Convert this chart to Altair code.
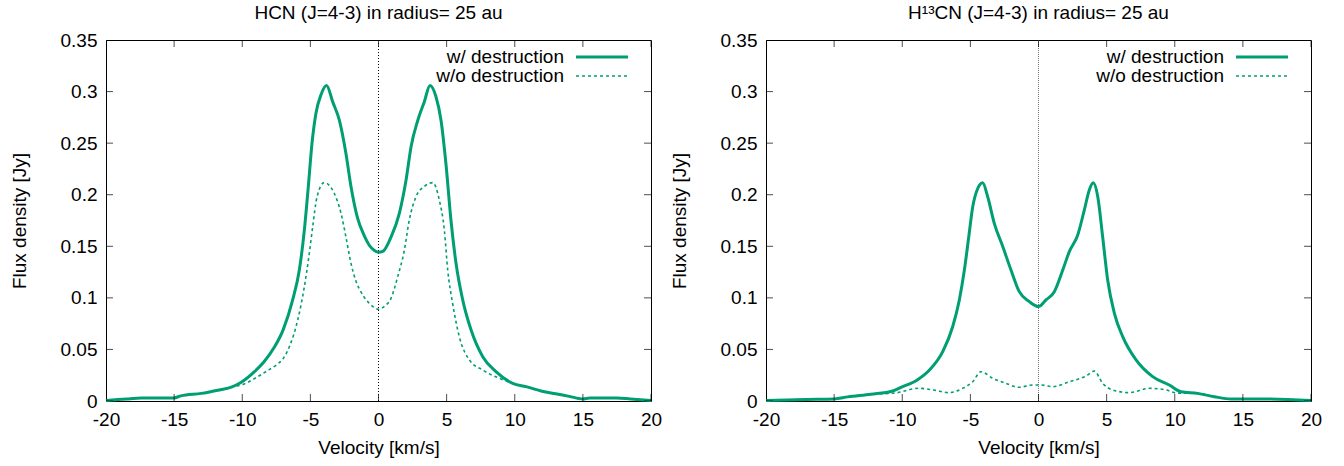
import altair as alt
import pandas as pd

# ---------------- data ----------------
# Left panel: HCN (J=4-3)
hcn_w_v = [-20, -18.5, -17.4, -15.5, -15.0, -14.5, -13.0, -11.8, -10.8, -10.1, -9.1, -8.4, -7.65, -7.0,
           -6.3, -5.81, -5.44, -5.15, -4.88, -4.59, -4.22, -3.81, -3.36, -2.87, -2.39, -2.02, -1.53,
           -1.04, -0.68, -0.3, 0.0, 0.31, 0.92, 1.53, 2.02, 2.39, 2.88, 3.36, 3.78, 4.22, 4.59, 4.95,
           5.32, 5.69, 6.18, 6.79, 7.65, 8.62, 9.85, 10.83, 12.0, 13.0, 14.0, 15.0, 15.5, 17.5, 18.5, 20]
hcn_w_f = [0.0005, 0.002, 0.0028, 0.0028, 0.003, 0.005, 0.0074, 0.0105, 0.0135, 0.018, 0.0285, 0.038,
           0.052, 0.069, 0.098, 0.127, 0.166, 0.208, 0.25, 0.279, 0.297, 0.306, 0.29, 0.272, 0.24, 0.208,
           0.177, 0.16, 0.151, 0.146, 0.1442, 0.145, 0.159, 0.182, 0.214, 0.2466, 0.272, 0.29, 0.306,
           0.295, 0.272, 0.23, 0.175, 0.1335, 0.098, 0.069, 0.043, 0.0285, 0.0171, 0.0139, 0.0095,
           0.007, 0.0045, 0.002, 0.003, 0.003, 0.002, 0.0005]

hcn_wo_v = [-20, -18.5, -17.4, -15.5, -15.0, -14.5, -13.0, -11.8, -10.8, -9.85, -9.0, -8.2, -7.5, -7.0,
            -6.5, -5.93, -5.44, -5.08, -4.83, -4.51, -3.98, -3.25, -2.75, -2.39, -2.02, -1.65, -1.3,
            -0.9, -0.45, 0.0, 0.45, 0.9, 1.41, 1.9, 2.26, 2.75, 3.36, 3.98, 4.46, 4.83, 5.08, 5.44, 5.93,
            6.67, 7.65, 8.87, 9.85, 10.83, 12.0, 13.0, 14.0, 15.0, 15.5, 17.5, 18.5, 20]
hcn_wo_f = [0.0005, 0.002, 0.0028, 0.0028, 0.003, 0.005, 0.0074, 0.0105, 0.0135, 0.0165, 0.0225, 0.029,
            0.035, 0.041, 0.054, 0.0785, 0.111, 0.143, 0.169, 0.198, 0.2117, 0.2014, 0.182, 0.159,
            0.1335, 0.116, 0.106, 0.098, 0.092, 0.0889, 0.092, 0.099, 0.1206, 0.1464, 0.1755, 0.198,
            0.208, 0.2117, 0.195, 0.166, 0.127, 0.0947, 0.0624, 0.0398, 0.030, 0.022, 0.0171, 0.0139,
            0.0095, 0.007, 0.0045, 0.002, 0.003, 0.003, 0.002, 0.0005]

# Right panel: H13CN (J=4-3)
h13_w_v = [-20, -17, -15, -14.0, -12.3, -10.7, -10.09, -8.9, -8.0, -7.03, -6.3, -5.81, -5.44, -5.12,
           -4.83, -4.46, -4.1, -3.73, -3.24, -2.63, -2.02, -1.41, -0.67, 0.0, 0.55, 1.16, 1.78, 2.26,
           2.88, 3.36, 3.73, 4.02, 4.35, 4.71, 5.08, 5.57, 6.18, 7.16, 8.38, 9.6, 10.46, 11.68, 12.9,
           14.13, 16.57, 20]
h13_w_f = [0.0005, 0.0015, 0.002, 0.004, 0.0065, 0.0097, 0.0133, 0.0204, 0.030, 0.0478, 0.072, 0.098,
           0.127, 0.159, 0.188, 0.206, 0.2115, 0.198, 0.172, 0.150, 0.127, 0.106, 0.0963, 0.0915, 0.098,
           0.106, 0.127, 0.1448, 0.161, 0.185, 0.2046, 0.2115, 0.198, 0.159, 0.117, 0.085, 0.0624,
           0.0398, 0.0236, 0.0155, 0.009, 0.0074, 0.0042, 0.002, 0.002, 0.0005]

h13_wo_v = [-20, -17, -15, -14.0, -12.3, -10.5, -8.8, -7.7, -6.55, -5.57, -4.83, -4.22, -3.36, -2.39,
            -1.41, -0.43, 0.2, 1.04, 2.26, 3.49, 4.1, 4.71, 5.44, 6.67, 8.13, 9.36, 10.2, 11.68, 12.9,
            14.13, 16.57, 20]
h13_wo_f = [0.0005, 0.0015, 0.002, 0.004, 0.0065, 0.0078, 0.0123, 0.0107, 0.0081, 0.0123, 0.0187,
            0.0284, 0.022, 0.0171, 0.0133, 0.0155, 0.0155, 0.0139, 0.0187, 0.0242, 0.029, 0.0171,
            0.0107, 0.0081, 0.0123, 0.0107, 0.0076, 0.0074, 0.0042, 0.002, 0.002, 0.0005]

titles = ["HCN (J=4-3) in radius= 25 au", "H\u00b9\u00b3CN (J=4-3) in radius= 25 au"]
legend_labels = ["w/ destruction", "w/o destruction"]
x_tick_values = [-20, -15, -10, -5, 0, 5, 10, 15, 20]
y_tick_values = [0, 0.05, 0.1, 0.15, 0.2, 0.25, 0.3, 0.35]

# ---------------- styling ----------------
FONT = "Liberation Sans"
FS = 19
GREEN = "#009e73"
W, H = 545, 361

x_scale = alt.Scale(domain=[-20, 20], nice=False, zero=False)
y_scale = alt.Scale(domain=[0, 0.35], nice=False)

x_axis = alt.Axis(values=x_tick_values, labelExpr="'' + datum.value", title="Velocity [km/s]",
                  ticks=False, tickSize=0, domain=False, grid=False, labelPadding=9, titlePadding=9,
                  labelFlush=False, labelOverlap=False)
y_axis = alt.Axis(values=y_tick_values, labelExpr="'' + datum.value", title="Flux density [Jy]",
                  ticks=False, tickSize=0, domain=False, grid=False, labelPadding=9, titlePadding=31,
                  labelFlush=False, labelOverlap=False)


def panel(title, wv, wf, wov, wof, zero_color, zero_dash):
    xe = alt.X("v:Q", scale=x_scale, axis=x_axis)
    ye = alt.Y("f:Q", scale=y_scale, axis=y_axis)

    df_w = pd.DataFrame({"v": wv, "f": wf})
    df_wo = pd.DataFrame({"v": wov, "f": wof})

    zero = alt.Chart(pd.DataFrame({"v": [0]})).mark_rule(
        color=zero_color, strokeDash=zero_dash, strokeWidth=1
    ).encode(x=alt.X("v:Q", scale=x_scale, axis=x_axis))

    dotted = alt.Chart(df_wo).mark_line(
        color=GREEN, strokeWidth=1.6, strokeDash=[3, 3], interpolate="monotone"
    ).encode(x=xe, y=ye, order="v:Q")

    solid = alt.Chart(df_w).mark_line(
        color=GREEN, strokeWidth=3, interpolate="monotone"
    ).encode(x=xe, y=ye, order="v:Q")

    xt = pd.DataFrame({"v": x_tick_values * 2, "f": [0.0] * 9 + [0.35] * 9})
    xticks = alt.Chart(xt).mark_tick(orient="vertical", size=14, thickness=1, color="black",
                                     clip=True).encode(x=xe, y=ye)
    yt = pd.DataFrame({"v": [-20] * 8 + [20] * 8, "f": y_tick_values * 2})
    yticks = alt.Chart(yt).mark_tick(orient="horizontal", size=14, thickness=1, color="black",
                                     clip=True).encode(x=xe, y=ye)

    leg1 = alt.Chart(pd.DataFrame({"t": [legend_labels[0]]})).mark_text(
        align="right", baseline="middle", font=FONT, fontSize=FS, color="black"
    ).encode(text="t:N", x=alt.value(458), y=alt.value(17))
    leg2 = alt.Chart(pd.DataFrame({"t": [legend_labels[1]]})).mark_text(
        align="right", baseline="middle", font=FONT, fontSize=FS, color="black"
    ).encode(text="t:N", x=alt.value(458), y=alt.value(36))
    leg_line1 = alt.Chart(pd.DataFrame({"a": [1]})).mark_rule(
        color=GREEN, strokeWidth=3
    ).encode(x=alt.value(470), x2=alt.value(522), y=alt.value(17))
    leg_line2 = alt.Chart(pd.DataFrame({"a": [1]})).mark_rule(
        color=GREEN, strokeWidth=1.6, strokeDash=[3, 3]
    ).encode(x=alt.value(470), x2=alt.value(522), y=alt.value(36))

    return alt.layer(
        zero, dotted, solid, xticks, yticks, leg1, leg2, leg_line1, leg_line2
    ).properties(
        width=W, height=H,
        title=alt.TitleParams(title, font=FONT, fontSize=FS, fontWeight="normal", color="black",
                              anchor="middle", offset=8)
    )


left = panel(titles[0], hcn_w_v, hcn_w_f, hcn_wo_v, hcn_wo_f, "black", [1, 2])
right = panel(titles[1], h13_w_v, h13_w_f, h13_wo_v, h13_wo_f, "#777777", [1, 1])

chart = alt.hconcat(left, right, spacing=115, bounds="flush").properties(
    padding={"left": 9, "top": 3, "right": 5, "bottom": 3}
).configure(
    background="white"
).configure_view(
    stroke="black", strokeWidth=1
).configure_axis(
    labelFont=FONT, labelFontSize=FS, labelColor="black",
    titleFont=FONT, titleFontSize=FS, titleFontWeight="normal", titleColor="black"
)

chart.save("out.html", embed_options={"renderer": "svg", "actions": False})
